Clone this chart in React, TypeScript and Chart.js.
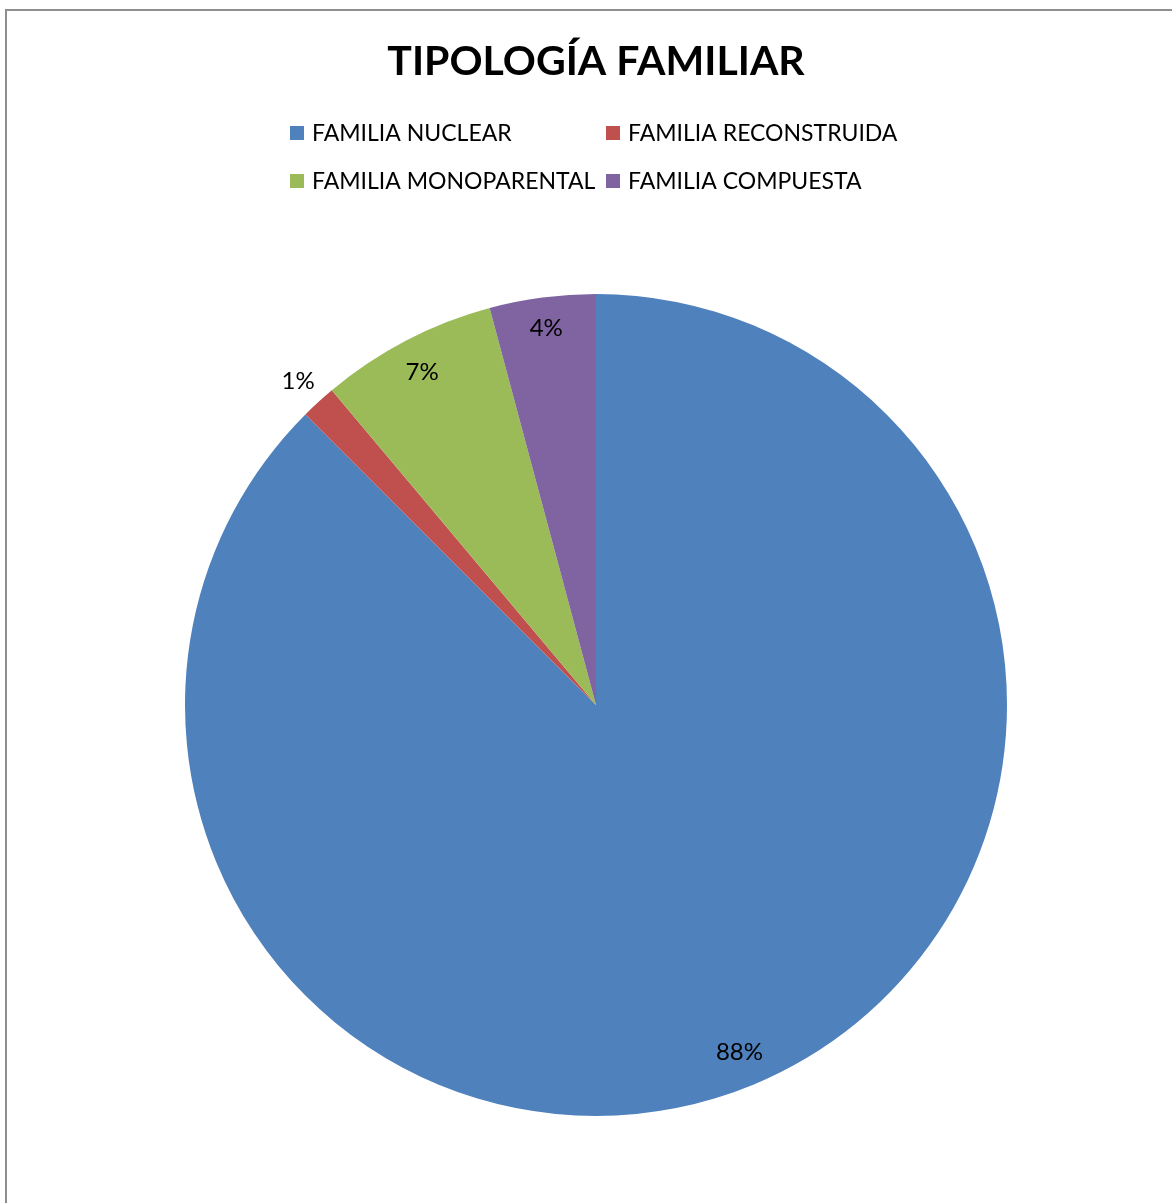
import React, { useEffect, useRef } from "react";
import { Chart, registerables } from "chart.js";

Chart.register(...registerables);

// Household types and the number of families in each
const categories = [
  "FAMILIA NUCLEAR",
  "FAMILIA RECONSTRUIDA",
  "FAMILIA MONOPARENTAL",
  "FAMILIA COMPUESTA",
];
const familyCounts = [63, 1, 5, 3];
const sliceColors = ["#4F81BD", "#C0504D", "#9BBB59", "#8064A2"];
const chartTitle = "TIPOLOGÍA FAMILIAR";

const FONT = "Lato, 'Open Sans', sans-serif";

const percentOf = (v: number, total: number) => Math.round((v / total) * 100);

// Title, two-column legend and frame
const decorPlugin = {
  id: "decor",
  afterDraw(chart: any) {
    const ctx = chart.ctx as CanvasRenderingContext2D;
    ctx.save();
    // outer frame
    ctx.strokeStyle = "#8e8e8e";
    ctx.lineWidth = 2;
    ctx.strokeRect(6, 10, 1200, 1250);

    // title
    ctx.fillStyle = "#000";
    ctx.font = `bold 41px ${FONT}`;
    ctx.textAlign = "center";
    ctx.textBaseline = "middle";
    ctx.fillText(chartTitle, 596, 62);

    // legend in a 2x2 grid
    const colX = [290, 606];
    const rowY = [133, 181];
    ctx.font = `23px ${FONT}`;
    ctx.textAlign = "left";
    categories.forEach((name, i) => {
      const x = colX[i % 2];
      const y = rowY[Math.floor(i / 2)];
      ctx.fillStyle = sliceColors[i];
      ctx.fillRect(x, y - 7, 14, 14);
      ctx.fillStyle = "#000";
      ctx.fillText(name, x + 22, y + 1);
    });
    ctx.restore();
  },
};

// Percentage labels: inside labels sit as far out as their box fits within
// the rim; very thin slices get their label just outside the pie.
const sliceLabelPlugin = {
  id: "sliceLabels",
  afterDatasetsDraw(chart: any) {
    const ctx = chart.ctx as CanvasRenderingContext2D;
    const meta = chart.getDatasetMeta(0);
    const data = chart.data.datasets[0].data as number[];
    const total = data.reduce((a, b) => a + b, 0);
    const boxH = 24;
    const rimGap = 16;
    ctx.save();
    ctx.font = `24px ${FONT}`;
    ctx.fillStyle = "#000";
    ctx.textAlign = "center";
    ctx.textBaseline = "middle";
    meta.data.forEach((arc: any, i: number) => {
      const { x, y, startAngle, endAngle, outerRadius } = arc.getProps(
        ["x", "y", "startAngle", "endAngle", "outerRadius"],
        true
      );
      const text = `${percentOf(data[i], total)}%`;
      const w = ctx.measureText(text).width;
      const mid = (startAngle + endAngle) / 2;
      const share = data[i] / total;
      const reach =
        (w / 2) * Math.abs(Math.cos(mid)) + (boxH / 2) * Math.abs(Math.sin(mid));
      const r = share < 0.02 ? outerRadius + 30 : outerRadius - rimGap - reach;
      ctx.fillText(text, x + Math.cos(mid) * r, y + Math.sin(mid) * r + 1);
    });
    ctx.restore();
  },
};

export default function App() {
  const canvasRef = useRef<HTMLCanvasElement | null>(null);

  useEffect(() => {
    if (!canvasRef.current) return;
    const chart = new Chart(canvasRef.current, {
      type: "pie",
      data: {
        labels: categories,
        datasets: [
          {
            data: familyCounts,
            backgroundColor: sliceColors,
            borderWidth: 0,
          },
        ],
      },
      options: {
        responsive: false,
        animation: false,
        devicePixelRatio: 1,
        layout: { padding: { left: 185, right: 165, top: 294, bottom: 87 } },
        plugins: {
          legend: { display: false },
          title: { display: false },
          tooltip: { enabled: false },
        },
      },
      plugins: [sliceLabelPlugin, decorPlugin],
    });
    return () => chart.destroy();
  }, []);

  return (
    <div
      style={{
        position: "absolute",
        left: 0,
        top: 0,
        width: 1172,
        height: 1203,
        background: "#fff",
      }}
    >
      <canvas
        ref={canvasRef}
        width={1172}
        height={1203}
        style={{ display: "block" }}
      />
    </div>
  );
}
